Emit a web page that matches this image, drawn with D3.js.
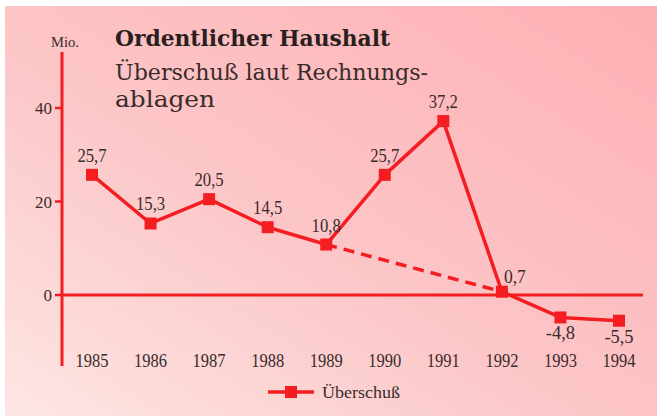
<!DOCTYPE html>
<html>
<head>
<meta charset="utf-8">
<script src="https://cdn.jsdelivr.net/npm/d3@7"></script>
<style>
	body{margin:0;background:#fff}
	svg{display:block}
	text{fill:#3a2b2b}
</style>
</head>
<body>
<svg id="chart" width="657" height="418"></svg>
<script>
// data
const years = ["1985","1986","1987","1988","1989","1990","1991","1992","1993","1994"]
const values = [25.7, 15.3, 20.5, 14.5, 10.8, 25.7, 37.2, 0.7, -4.8, -5.5]
const labels = ["25,7","15,3","20,5","14,5","10,8","25,7","37,2","0,7","-4,8","-5,5"]
const yTicks = [0, 20, 40]
const seriesName = "Überschuß"
// which points the dashed line connects
const dashedFrom = "1989", dashedTo = "1992"

const red = "#f31d22"
const serif = "'Liberation Serif', serif"
const svg = d3.select("#chart")

// background panel with pink gradient
const defs = svg.append("defs")
const grad = defs.append("linearGradient")
	.attr("id", "bg")
	.attr("x1", "100%").attr("y1", "0%")
	.attr("x2", "0%").attr("y2", "100%")
grad.append("stop").attr("offset", "0%").attr("stop-color", "#ffb0b4")
grad.append("stop").attr("offset", "55%").attr("stop-color", "#fcc6c7")
grad.append("stop").attr("offset", "100%").attr("stop-color", "#fde6e4")
svg.append("rect")
	.attr("x", 5).attr("y", 6)
	.attr("width", 652).attr("height", 410)
	.attr("fill", "url(#bg)")

const x = d3.scalePoint()
	.domain(years)
	.range([92, 619])
const y = d3.scaleLinear()
	.domain([0, 40])
	.range([295, 108])

// y axis
const axisX = 62
svg.append("line")
	.attr("x1", axisX).attr("x2", axisX)
	.attr("y1", 52).attr("y2", 366)
	.attr("stroke", red).attr("stroke-width", 3)
svg.selectAll(".ytick")
	.data(yTicks)
	.enter().append("line")
	.attr("x1", axisX-7).attr("x2", axisX)
	.attr("y1", d=>y(d)).attr("y2", d=>y(d))
	.attr("stroke", red).attr("stroke-width", 2.5)
svg.selectAll(".ylab")
	.data(yTicks)
	.enter().append("text")
	.attr("x", 52).attr("y", d=>y(d)+6)
	.attr("text-anchor", "end")
	.style("font-family", serif)
	.attr("font-size", 17)
	.text(d=>d)
svg.append("text")
	.attr("x", 65).attr("y", 47)
	.attr("text-anchor", "middle")
	.style("font-family", serif)
	.attr("font-size", 14)
	.attr("textLength", 28)
	.attr("lengthAdjust", "spacingAndGlyphs")
	.text("Mio.")

// zero line
svg.append("line")
	.attr("x1", axisX).attr("x2", 643)
	.attr("y1", y(0)).attr("y2", y(0))
	.attr("stroke", red).attr("stroke-width", 3)

// year labels
svg.selectAll(".xlab")
	.data(years)
	.enter().append("text")
	.attr("x", d=>x(d)).attr("y", 367)
	.attr("text-anchor", "middle")
	.style("font-family", serif)
	.attr("font-size", 18)
	.attr("textLength", 33)
	.attr("lengthAdjust", "spacingAndGlyphs")
	.text(d=>d)

// series
const pts = years.map((yr, i)=>({year: yr, v: values[i], label: labels[i]}))
const line = d3.line().x(d=>x(d.year)).y(d=>y(d.v))
svg.append("path")
	.datum(pts)
	.attr("d", line)
	.attr("fill", "none")
	.attr("stroke", red).attr("stroke-width", 3.5)
	.attr("stroke-linejoin", "round")
const dashPts = pts.filter(d=>d.year===dashedFrom||d.year===dashedTo)
svg.append("path")
	.datum(dashPts)
	.attr("d", line)
	.attr("fill", "none")
	.attr("stroke", red).attr("stroke-width", 3.5)
	.attr("stroke-dasharray", "11,7")
svg.selectAll(".mark")
	.data(pts)
	.enter().append("rect")
	.attr("x", d=>x(d.year)-6).attr("y", d=>y(d.v)-6)
	.attr("width", 12).attr("height", 12)
	.attr("fill", red)

// value labels
svg.selectAll(".vlab")
	.data(pts)
	.enter().append("text")
	.attr("x", d=>d.year==="1992" ? x(d.year)+2 : x(d.year))
	.attr("y", d=>{
		if(d.v<0) return y(d.v)+22
		if(d.year==="1992") return y(d.v)-9
		return y(d.v)-13
	})
	.attr("text-anchor", d=>d.year==="1992" ? "start" : "middle")
	.style("font-family", serif)
	.attr("font-size", 18)
	.attr("textLength", d=>d.label.length*7.3)
	.attr("lengthAdjust", "spacingAndGlyphs")
	.text(d=>d.label)

// title
svg.append("text")
	.attr("x", 115).attr("y", 46)
	.style("font-family", "'DejaVu Serif', serif")
	.style("fill", "#2a1f1f")
	.attr("font-weight", "bold")
	.attr("font-size", 22)
	.attr("textLength", 275)
	.attr("lengthAdjust", "spacingAndGlyphs")
	.text("Ordentlicher Haushalt")
svg.append("text")
	.attr("x", 115).attr("y", 80)
	.style("font-family", "'DejaVu Serif', serif")
	.attr("font-size", 22)
	.attr("textLength", 313)
	.attr("lengthAdjust", "spacingAndGlyphs")
	.text("Überschuß laut Rechnungs-")
svg.append("text")
	.attr("x", 115).attr("y", 107)
	.style("font-family", "'DejaVu Serif', serif")
	.attr("font-size", 22)
	.attr("textLength", 100)
	.attr("lengthAdjust", "spacingAndGlyphs")
	.text("ablagen")

// legend
const lg = svg.append("g").attr("transform", "translate(268,392)")
lg.append("line")
	.attr("x1", 0).attr("x2", 46)
	.attr("stroke", red).attr("stroke-width", 3.5)
lg.append("rect")
	.attr("x", 17).attr("y", -6)
	.attr("width", 12).attr("height", 12)
	.attr("fill", red)
lg.append("text")
	.attr("x", 54).attr("y", 6)
	.style("font-family", serif)
	.attr("font-size", 17)
	.attr("textLength", 78)
	.attr("lengthAdjust", "spacingAndGlyphs")
	.text(seriesName)
</script>
</body>
</html>
